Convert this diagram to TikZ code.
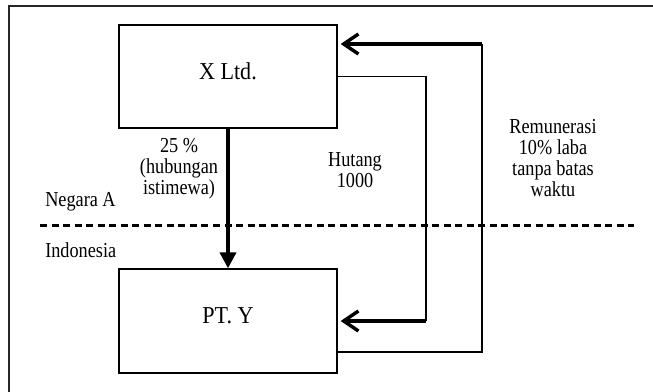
\documentclass[tikz,border=0pt]{standalone}
\usepackage{fontspec}
\setmainfont{Liberation Serif}
\newfontfamily\labelfont[FakeStretch=0.855]{Liberation Serif}
\newfontfamily\boxfont[FakeStretch=0.91]{Liberation Serif}
\usetikzlibrary{calc, positioning, arrows.meta}
\tikzset{
	entity/.style={draw, line width=1.5pt, minimum width=163.5pt, minimum height=77.5pt, text depth=7.5pt, font=\boxfont\fontsize{18.2}{20}\selectfont},
	note/.style={align=center, inner sep=0pt, font=\labelfont\fontsize{16}{15.75}\selectfont},
	flow/.style={line width=1.3pt},
	share/.style={line width=2.8pt, -{Triangle[length=12pt, width=12pt]}},
	payment/.style={line width=2.6pt, -{Straight Barb[length=11pt, width=15pt]}, shorten >=2pt},
	border/.style={line width=2.25pt, dash pattern=on 5.25pt off 3.4pt}
}

\begin{document}
\begin{tikzpicture}[x=0.75pt, y=-0.75pt]
		\useasboundingbox (0,0) rectangle (653,392);
		\draw[line width=1.5pt, black!85] (8.5,392) |- (653,6);

		\node[entity] (xltd) at (228,76.5) {X Ltd.};
		\node[entity] (pty) at (228,321) {PT. Y};

		% country border
		\coordinate (borderW) at (40,225);
		\coordinate (borderE) at (634,225);
		\draw[border] (borderW) -- (borderE);
		\node[note, anchor=base west] (negara) at (45,206) {Negara A};
		\node[note, anchor=base west] (indo) at (45,257) {Indonesia};

		% shares
		\draw[share] (xltd.south) -- (pty.north);
		\node[note] (sharelbl) at (179,168.2) {25 \%\\(hubungan\\istimewa)};

		% loan and remuneration
		\coordinate (debtcorner) at (426,321);
		\coordinate (feecorner) at (482,44);
		\draw[flow] (xltd.east) -| (debtcorner);
		\draw[payment] (debtcorner) -- (pty.east);
		\draw[flow] ($(pty.east)+(0,31)$) -| (feecorner);
		\draw[payment] (feecorner) -- (xltd.east |- feecorner);
		\node[note] (debtlbl) at (355,170) {Hutang\\1000};
		\node[note] (feelbl) at (553,157.8) {Remunerasi\\10\% laba\\tanpa batas\\waktu};

	\end{tikzpicture}
\end{document}
